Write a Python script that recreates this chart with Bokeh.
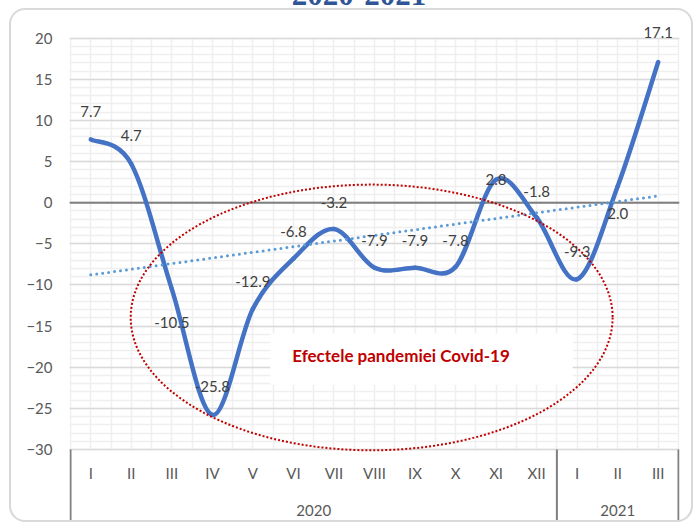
import numpy as np
from bokeh.plotting import figure
from bokeh.layouts import column, row
from bokeh.models import (Range1d, FixedTicker, Grid, Span, BoxAnnotation, Label,
                          ColumnDataSource, Div, Spacer)
from bokeh.core.properties import value
from bokeh.embed import file_html
from bokeh.resources import INLINE

# ---------------- data ----------------
title_text = "2020-2021"
months = ["I", "II", "III", "IV", "V", "VI", "VII", "VIII", "IX", "X", "XI", "XII", "I", "II", "III"]
years = ["2020", "2021"]
year_counts = [12, 3]
values = [7.7, 4.7, -10.5, -25.8, -12.9, -6.8, -3.2, -7.9, -7.9, -7.8, 2.8, -1.8, -9.3, 2.0, 17.1]
y_ticks = [-30, -25, -20, -15, -10, -5, 0, 5, 10, 15, 20]
annotation_text = "Efectele pandemiei Covid-19"

# label vertical offsets in screen pixels (positive = down)
label_dy = [-28, -29, 33, -28, -27, -27, -27, -27, -27, -26, 0, -26, -28, 27, -30]

FONT = "Lato"
n = len(values)
xs = np.arange(n) + 0.5
vals = np.array(values, dtype=float)

# smoothed line (Catmull-Rom as cubic Bezier segments)
P = np.column_stack([xs, vals])
prev = np.vstack([P[0], P[:-1]])
nxt = np.vstack([P[1:], P[-1]])
tang = (nxt - prev) / 6.0
c0 = P[:-1] + tang[:-1]
c1 = P[1:] - tang[1:]
bez = ColumnDataSource(dict(x0=P[:-1, 0], y0=P[:-1, 1], x1=P[1:, 0], y1=P[1:, 1],
                            cx0=c0[:, 0], cy0=c0[:, 1], cx1=c1[:, 0], cy1=c1[:, 1]))

# linear trend
slope, intercept = np.polyfit(xs, vals, 1)
trend_x = [xs[0], xs[-1]]
trend_y = [slope * xs[0] + intercept, slope * xs[-1] + intercept]

Y_LOW, Y_HIGH = -39.12, 22.15
p = figure(width=684, height=514,
           x_range=Range1d(-0.025, n + 0.025), y_range=Range1d(Y_LOW, Y_HIGH),
           x_axis_location=None, y_axis_location="left",
           output_backend="svg", toolbar_location=None,
           min_border_left=58, min_border_right=16, min_border_top=10, min_border_bottom=0,
           border_fill_color=None, outline_line_color=None, background_fill_color="white",
           styles={"border": "2px solid #d9d9d9", "border-radius": "16px"})

p.xgrid.visible = False
p.ygrid.visible = False

ygrid = Grid(dimension=1,
             ticker=FixedTicker(ticks=y_ticks, minor_ticks=list(range(y_ticks[0], y_ticks[-1] + 1))),
             grid_line_color="#d9d9d9", grid_line_width=1.5,
             minor_grid_line_color="#efefef", minor_grid_line_width=1.5)
xgrid = Grid(dimension=0,
             ticker=FixedTicker(ticks=list(np.arange(0, n + 0.01, 0.5))),
             cross_bounds=(y_ticks[0], y_ticks[-1]),
             grid_line_color="#efefef", grid_line_width=1.5)
p.add_layout(xgrid)
p.add_layout(ygrid)

p.add_layout(Span(location=0, dimension="width", line_color="#7f7f7f", line_width=2, level="underlay"))

# annotation box
p.add_layout(BoxAnnotation(left=4.93, right=12.39, top=-15.9, bottom=-22.1,
                           fill_color="white", fill_alpha=1, line_color=None, level="underlay"))
p.add_layout(Label(x=5.47, y=-18.57, text=annotation_text, text_font=FONT, text_font_size="17px",
                   text_font_style="bold", text_color="#C00000", text_baseline="middle", text_align="left"))

# y axis
ax = p.yaxis[0]
ax.ticker = FixedTicker(ticks=y_ticks)
ax.axis_line_color = None
ax.major_tick_line_color = None
ax.minor_tick_line_color = None
ax.major_tick_out = 0
ax.minor_tick_out = 0
ax.major_label_standoff = 17
ax.major_label_text_font = FONT
ax.major_label_text_font_size = "15px"
ax.major_label_text_color = "#595959"

# main smoothed line
p.bezier(x0="x0", y0="y0", x1="x1", y1="y1", cx0="cx0", cy0="cy0", cx1="cx1", cy1="cy1",
         source=bez, line_color="#4472C4", line_width=4.5, line_cap="round")

# trend line
p.line(trend_x, trend_y, line_color="#5B9BD5", line_width=3, line_dash="0 6", line_cap="round")

# ellipse
p.ellipse(x=[7.43], y=[-13.95], width=[11.89], height=[32.3], fill_color=None,
          line_color="#C00000", line_width=2, line_dash="2 2")

# data labels
lab = ColumnDataSource(dict(x=xs, y=vals, t=[f"{v:.1f}" for v in values], dy=label_dy))
p.text(x="x", y="y", text="t", y_offset="dy", source=lab, text_font=value(FONT),
       text_font_size="15px", text_color="#404040", text_align="center", text_baseline="middle")

# bottom category labels
p.text(x=xs, y=[-32.92] * n, text=months, text_font=value(FONT), text_font_size="15px",
       text_color="#595959", text_align="center", text_baseline="middle")
bounds = np.concatenate([[0], np.cumsum(year_counts)])
year_x = (bounds[:-1] + bounds[1:]) / 2
p.text(x=year_x, y=[-37.42] * len(years), text=years, text_font=value(FONT), text_font_size="15px",
       text_color="#595959", text_align="center", text_baseline="middle")
p.segment(x0=bounds, y0=[y_ticks[0]] * len(bounds), x1=bounds, y1=[Y_LOW] * len(bounds),
          line_color="#7f7f7f", line_width=2)

# title (only its lower edge is visible in the original)
title = Div(text=('<div style="position:relative; top:-21px; width:697px; padding-left:21px; '
                  'box-sizing:border-box; text-align:center; font-family:\'Liberation Serif\'; '
                  'font-weight:bold; font-size:31px; line-height:31px; color:#2F5597; '
                  'white-space:nowrap;">' + title_text + '</div>'),
            width=697, height=8, margin=0, styles={"overflow": "hidden"})

layout = column(title, row(Spacer(width=9, height=10, margin=0), p, spacing=0), spacing=0)

open("out.html", "w").write(file_html(layout, INLINE))
